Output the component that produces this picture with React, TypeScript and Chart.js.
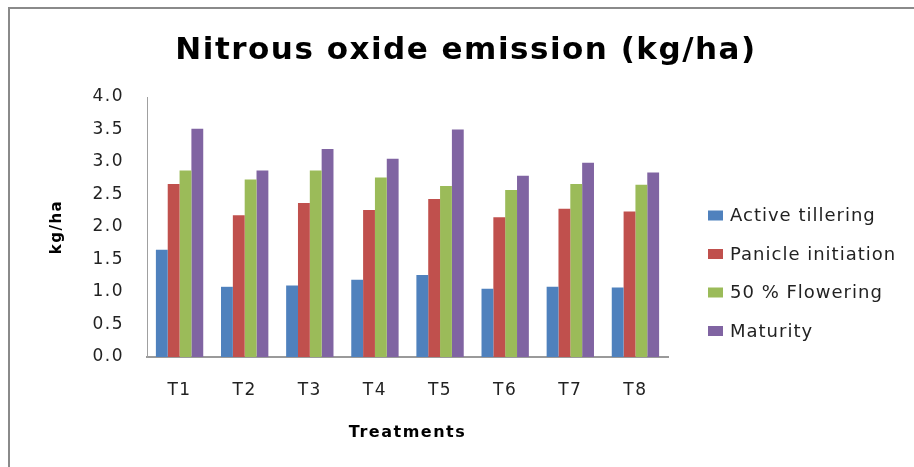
import React, { useEffect, useRef } from 'react';
import { Chart, registerables } from 'chart.js';

Chart.register(...registerables);

// ---- data ----
const categories = ['T1', 'T2', 'T3', 'T4', 'T5', 'T6', 'T7', 'T8'];
const seriesLabels = ['Active tillering', 'Panicle initiation', '50 % Flowering', 'Maturity'];
const activeTillering = [1.65, 1.08, 1.10, 1.19, 1.26, 1.05, 1.08, 1.07];
const panicleInitiation = [2.66, 2.18, 2.37, 2.26, 2.43, 2.15, 2.28, 2.24];
const flowering50 = [2.87, 2.73, 2.87, 2.76, 2.63, 2.57, 2.66, 2.65];
const maturity = [3.51, 2.87, 3.20, 3.05, 3.50, 2.79, 2.99, 2.84];
const yMin = 0;
const yMax = 4;
const yStep = 0.5;
const titleText = 'Nitrous oxide emission (kg/ha)';
const xTitle = 'Treatments';
const yTitle = 'kg/ha';

const seriesColors = ['#4F81BD', '#C0504D', '#9BBB59', '#8064A2'];

const FONT = '"DejaVu Sans", Verdana, sans-serif';

const framePlugin = {
  id: 'frame',
  beforeDraw(chart: any) {
    const ctx = chart.ctx;
    (ctx as any).letterSpacing = '1.5px';
    ctx.save();
    ctx.strokeStyle = '#8a8a8a';
    ctx.lineWidth = 2;
    ctx.beginPath();
    ctx.moveTo(9, chart.height);
    ctx.lineTo(9, 8);
    ctx.lineTo(chart.width, 8);
    ctx.stroke();
    ctx.restore();
  },
};

const legendPlugin = {
  id: 'sideLegend',
  afterDraw(chart: any) {
    const ctx = chart.ctx;
    ctx.save();
    (ctx as any).letterSpacing = '1px';
    ctx.font = `18px ${FONT}`;
    ctx.textBaseline = 'middle';
    ctx.textAlign = 'left';
    chart.data.datasets.forEach((ds: any, i: number) => {
      const cy = 215.5 + i * 38.5;
      ctx.fillStyle = ds.backgroundColor;
      ctx.fillRect(708, cy - 5, 15, 10);
      ctx.fillStyle = '#222';
      ctx.fillText(ds.label, 730, cy + 1);
    });
    ctx.restore();
  },
};

export default function App() {
  const ref = useRef<HTMLCanvasElement | null>(null);

  useEffect(() => {
    if (!ref.current) return;
    const series = [activeTillering, panicleInitiation, flowering50, maturity];
    const chart = new Chart(ref.current, {
      type: 'bar',
      data: {
        labels: categories,
        datasets: series.map((d, i) => ({
          label: seriesLabels[i],
          data: d,
          backgroundColor: seriesColors[i],
          borderWidth: 0,
          yAxisID: 'y',
          categoryPercentage: 0.727,
          barPercentage: 1.0,
        })),
      },
      options: {
        responsive: false,
        animation: false,
        devicePixelRatio: 1,
        layout: { padding: { left: 18, right: 0, top: 0, bottom: 0 } },
        font: { family: FONT },
        color: '#222',
        plugins: {
          legend: { display: false },
          tooltip: { enabled: false },
          title: {
            display: true,
            text: titleText,
            color: '#000',
            font: { family: FONT, size: 31, weight: 'bold', lineHeight: 1.2 },
            padding: { top: 32.4, bottom: 27.4 },
          },
        },
        scales: {
          x: {
            grid: { display: false, drawTicks: false },
            border: { display: true, color: '#9a9a9a', width: 2 },
            ticks: {
              color: '#222',
              padding: 23.8,
              font: { family: FONT, size: 17, lineHeight: 1.2 },
              maxRotation: 0,
            },
            title: {
              display: true,
              text: xTitle,
              color: '#000',
              font: { family: FONT, size: 16, weight: 'bold', lineHeight: 1.2 },
              padding: { top: 0, bottom: 24.4 },
            },
            afterFit(s: any) {
              s.height = 110;
            },
          },
          y: {
            min: yMin,
            max: yMax,
            grid: { display: false, drawTicks: false },
            border: { display: true, color: '#a0a0a0', width: 1 },
            ticks: {
              stepSize: yStep,
              color: '#222',
              padding: 23,
              font: { family: FONT, size: 17, lineHeight: 1.2 },
              callback: (v: any) => Number(v).toFixed(1),
            },
            title: {
              display: true,
              text: yTitle,
              color: '#000',
              font: { family: FONT, size: 15, weight: 'bold', lineHeight: 1.2 },
              padding: { top: 30, bottom: 0 },
            },
            afterFit(s: any) {
              s.width = 129;
            },
          },
          legendSpace: {
            type: 'linear',
            position: 'right',
            display: true,
            grid: { display: false, drawTicks: false },
            border: { display: false },
            ticks: { display: false },
            afterFit(s: any) {
              s.width = 246;
            },
          },
        },
      } as any,
      plugins: [framePlugin, legendPlugin],
    });
    return () => chart.destroy();
  }, []);

  return (
    <div style={{ position: 'absolute', left: 0, top: 0, width: 914, height: 467, background: '#fff' }}>
      <canvas ref={ref} width={914} height={467} style={{ display: 'block', width: 914, height: 467 }} />
    </div>
  );
}
